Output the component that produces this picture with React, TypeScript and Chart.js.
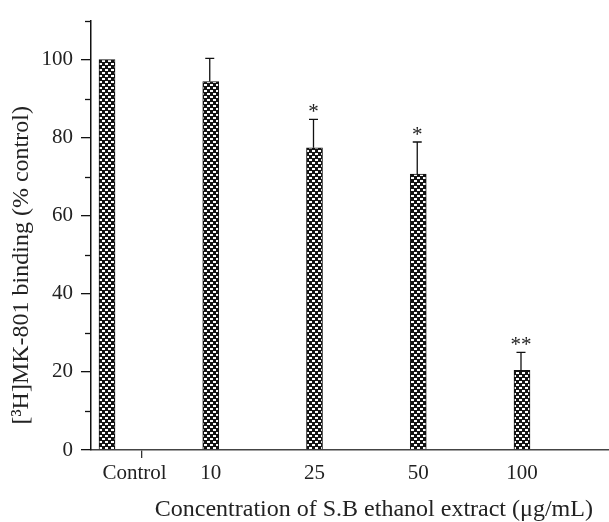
import React, { useEffect, useRef } from 'react';
import { Chart, registerables } from 'chart.js';

Chart.register(...registerables);

const categories = ['Control', '10', '25', '50', '100'];
const meanValues = [100, 94.4, 77.4, 70.7, 20.4];
const upperErrors = [0, 5.9, 7.3, 8.2, 4.6];
const significance = ['', '', '*', '*', '**'];
const yTickLabels = [0, 20, 40, 60, 80, 100];
const yMinorTicks = [10, 30, 50, 70, 90, 110];
const xTitle = 'Concentration of S.B ethanol extract (\u03bcg/mL)';
const yTitle = '[\u00b3H]MK-801 binding (% control)';

const FONT = '"Liberation Serif", "DejaVu Serif", serif';
const CONTROL_LABEL_POS = 0.265;
const X_TICK_MARK_POS = 0.33;

function makePattern(): CanvasPattern | string {
  const c = document.createElement('canvas');
  c.width = 6;
  c.height = 6;
  const g = c.getContext('2d');
  if (!g) return '#333';
  g.fillStyle = '#141414';
  g.fillRect(0, 0, 6, 6);
  g.fillStyle = '#ffffff';
  g.fillRect(0, 0, 3, 2);
  g.fillRect(3, 3, 3, 2);
  return g.createPattern(c, 'repeat') || '#333';
}

const overlayPlugin = {
  id: 'overlay',
  afterDatasetsDraw(chart: any) {
    const ctx = chart.ctx as CanvasRenderingContext2D;
    const xs = chart.scales.x;
    const ys = chart.scales.y;
    const area = chart.chartArea;
    ctx.save();
    ctx.strokeStyle = '#111';
    ctx.lineWidth = 1.3;
    meanValues.forEach((v, i) => {
      const err = upperErrors[i];
      const px = xs.getPixelForValue(i) - 1;
      const top = ys.getPixelForValue(v + err);
      if (err > 0) {
        ctx.beginPath();
        ctx.moveTo(px, ys.getPixelForValue(v));
        ctx.lineTo(px, top);
        ctx.moveTo(px - 4.5, top);
        ctx.lineTo(px + 4.5, top);
        ctx.stroke();
      }
      if (significance[i]) {
        ctx.fillStyle = '#222';
        ctx.font = '21px ' + FONT;
        ctx.textAlign = 'center';
        ctx.textBaseline = 'alphabetic';
        ctx.fillText(significance[i], px, top - 1);
      }
    });
    // minor y ticks
    const x0 = area.left;
    yMinorTicks.forEach((v) => {
      const py = Math.round(ys.getPixelForValue(v)) + 0.5;
      ctx.beginPath();
      ctx.moveTo(x0 - 6, py);
      ctx.lineTo(x0, py);
      ctx.stroke();
    });
    // axis titles
    ctx.fillStyle = '#222';
    ctx.font = '24px ' + FONT;
    ctx.textAlign = 'center';
    ctx.textBaseline = 'middle';
    ctx.fillText(xTitle, area.left + (area.right - area.left) * 0.546, chart.height - 12);
    ctx.translate(22, area.top + (area.bottom - area.top) * 0.57);
    ctx.rotate(-Math.PI / 2);
    ctx.fillText(yTitle, 0, 0);
    ctx.restore();
  },
};

export default function App() {
  const ref = useRef<HTMLCanvasElement>(null);
  useEffect(() => {
    document.body.style.margin = '0';
    const canvas = ref.current;
    if (!canvas) return;
    const pattern = makePattern();
    const chart = new Chart(canvas, {
      type: 'bar',
      data: {
        datasets: [
          {
            data: meanValues.map((v, i) => ({ x: i, y: v })),
            backgroundColor: pattern as any,
            borderColor: '#111',
            borderWidth: 1,
            barThickness: 16,
          },
        ],
      },
      plugins: [overlayPlugin],
      options: {
        responsive: false,
        animation: false,
        layout: { padding: { top: 16, left: 0, right: 0, bottom: 0 } },
        plugins: { legend: { display: false }, tooltip: { enabled: false } },
        scales: {
          x: {
            type: 'linear',
            offset: false,
            min: -0.1542,
            max: 4.8386,
            afterBuildTicks: (scale: any) => {
              scale.ticks = [
                { value: CONTROL_LABEL_POS },
                { value: X_TICK_MARK_POS },
                ...categories.slice(1).map((_, i) => ({ value: i + 1 })),
              ];
            },
            afterFit: (scale: any) => {
              scale.height = 72;
            },
            ticks: {
              autoSkip: false,
              maxRotation: 0,
              padding: 3,
              color: '#222',
              font: { family: FONT, size: 21 },
              callback: (value: any) =>
                value === X_TICK_MARK_POS ? '' : categories[Math.round(value)],
            },
            grid: {
              display: true,
              offset: false,
              drawOnChartArea: false,
              drawTicks: true,
              tickLength: 8,
              lineWidth: 1.3,
              tickColor: (ctx: any) =>
                ctx.tick && ctx.tick.value === X_TICK_MARK_POS ? '#333' : 'rgba(0,0,0,0)',
            },
            border: { display: true, color: '#444', width: 1.5 },
          },
          y: {
            type: 'linear',
            min: 0,
            max: 110,
            afterBuildTicks: (scale: any) => {
              scale.ticks = yTickLabels.map((v) => ({ value: v }));
            },
            afterFit: (scale: any) => {
              scale.width = 91;
            },
            ticks: {
              padding: 8,
              color: '#222',
              font: { family: FONT, size: 21 },
            },
            grid: {
              display: true,
              drawOnChartArea: false,
              drawTicks: true,
              tickLength: 10,
              lineWidth: 1.3,
              tickColor: '#111',
            },
            border: { display: true, color: '#111', width: 1.5 },
          },
        },
      },
    });
    return () => chart.destroy();
  }, []);
  return <canvas ref={ref} width={609} height={522} />;
}
